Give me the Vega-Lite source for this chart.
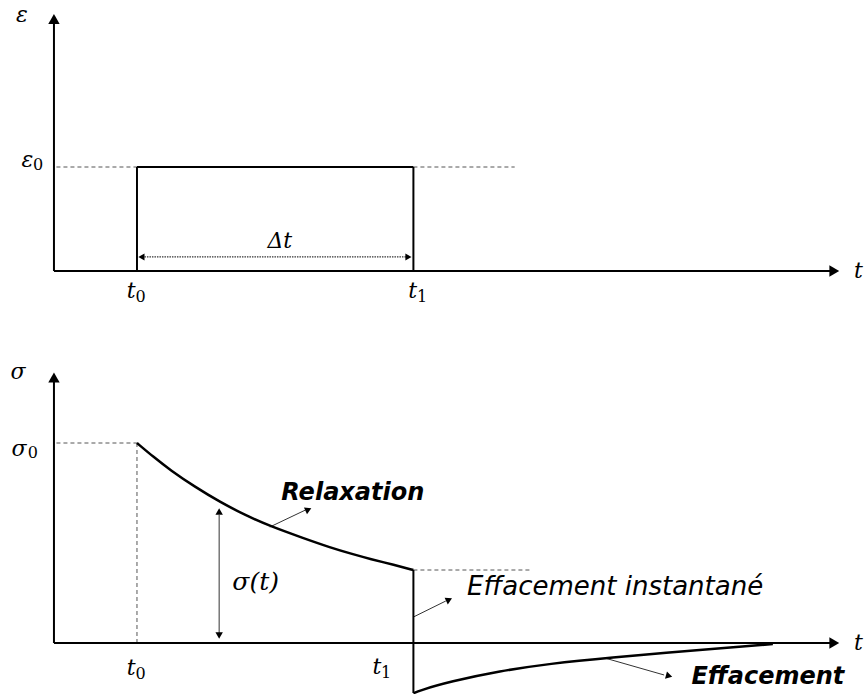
{
  "$schema": "https://vega.github.io/schema/vega-lite/v6.json",
  "padding": 0,
  "spacing": 0,
  "background": "white",
  "config": {"view": {"stroke": null}, "concat": {"spacing": 0}},
  "datasets": {
    "top_solid": [
      {"t": 0, "t2": 0, "v": 0, "v2": 2.40},
      {"t": 0, "t2": 9.36, "v": 0, "v2": 0},
      {"t": 1, "t2": 1, "v": 0, "v2": 1},
      {"t": 1, "t2": 4.33, "v": 1, "v2": 1},
      {"t": 4.33, "t2": 4.33, "v": 1, "v2": 0}
    ],
    "top_dashed": [
      {"t": 0.03, "t2": 1, "v": 1, "v2": 1},
      {"t": 4.33, "t2": 5.55, "v": 1, "v2": 1}
    ],
    "top_dotted": [
      {"t": 1.06, "t2": 4.26, "v": 0.135, "v2": 0.135}
    ],
    "top_heads_big": [
      {"t": 0, "v": 2.423, "dir": 270},
      {"t": 9.40, "v": 0, "dir": 0}
    ],
    "top_heads_small": [
      {"t": 1.054, "v": 0.135, "dir": 180},
      {"t": 4.27, "v": 0.135, "dir": 0}
    ],
    "top_math": [
      {"label": "ε", "t": -0.386, "v": 2.46},
      {"label": "ε", "t": -0.32, "v": 1.067},
      {"label": "Δt", "t": 2.72, "v": 0.288},
      {"label": "t", "t": 0.93, "v": -0.192},
      {"label": "t", "t": 4.32, "v": -0.192},
      {"label": "t", "t": 9.69, "v": 0}
    ],
    "top_sub": [
      {"label": "0", "t": -0.19, "v": 1.02},
      {"label": "0", "t": 1.045, "v": -0.25},
      {"label": "1", "t": 4.435, "v": -0.25}
    ],
    "bot_solid": [
      {"t": 0, "t2": 0, "v": 0, "v2": 1.31},
      {"t": 0, "t2": 9.36, "v": 0, "v2": 0},
      {"t": 4.33, "t2": 4.33, "v": 0.365, "v2": -0.25}
    ],
    "bot_dashed": [
      {"t": 0.03, "t2": 1, "v": 1, "v2": 1},
      {"t": 1, "t2": 1, "v": 0, "v2": 1},
      {"t": 4.33, "t2": 5.75, "v": 0.365, "v2": 0.365}
    ],
    "bot_thin": [
      {"t": 1.99, "t2": 1.99, "v": 0.05, "v2": 0.64},
      {"t": 2.6, "t2": 3.03, "v": 0.58, "v2": 0.665},
      {"t": 4.33, "t2": 4.72, "v": 0.13, "v2": 0.21},
      {"t": 6.66, "t2": 7.35, "v": -0.078, "v2": -0.16}
    ],
    "bot_curves": [
      {"series": "relaxation", "t": 1.0, "v": 1.0},
      {"series": "relaxation", "t": 1.2, "v": 0.93},
      {"series": "relaxation", "t": 1.4, "v": 0.865},
      {"series": "relaxation", "t": 1.7, "v": 0.78},
      {"series": "relaxation", "t": 2.0, "v": 0.705},
      {"series": "relaxation", "t": 2.3, "v": 0.64},
      {"series": "relaxation", "t": 2.6, "v": 0.585},
      {"series": "relaxation", "t": 3.0, "v": 0.525},
      {"series": "relaxation", "t": 3.33, "v": 0.477},
      {"series": "relaxation", "t": 3.6, "v": 0.444},
      {"series": "relaxation", "t": 3.81, "v": 0.42},
      {"series": "relaxation", "t": 4.1, "v": 0.39},
      {"series": "relaxation", "t": 4.33, "v": 0.365},
      {"series": "effacement", "t": 4.33, "v": -0.252},
      {"series": "effacement", "t": 4.4, "v": -0.238},
      {"series": "effacement", "t": 4.77, "v": -0.193},
      {"series": "effacement", "t": 5.37, "v": -0.14},
      {"series": "effacement", "t": 5.98, "v": -0.103},
      {"series": "effacement", "t": 6.66, "v": -0.074},
      {"series": "effacement", "t": 7.78, "v": -0.035},
      {"series": "effacement", "t": 8.66, "v": -0.005}
    ],
    "bot_heads_big": [
      {"t": 0, "v": 1.3275, "dir": 270},
      {"t": 9.40, "v": 0, "dir": 0}
    ],
    "bot_heads_small": [
      {"t": 1.99, "v": 0.6575, "dir": 270},
      {"t": 1.99, "v": 0.0375, "dir": 90},
      {"t": 3.065, "v": 0.667, "dir": 335.7},
      {"t": 4.76, "v": 0.2165, "dir": 334.6},
      {"t": 7.41, "v": -0.165, "dir": 15.3}
    ],
    "bot_math": [
      {"label": "σ", "t": -0.434, "v": 1.355},
      {"label": "σ", "t": -0.42, "v": 0.97},
      {"label": "t", "t": 0.93, "v": -0.125},
      {"label": "t", "t": 3.89, "v": -0.12},
      {"label": "t", "t": 9.69, "v": 0}
    ],
    "bot_math_big": [
      {"label": "σ(t)", "t": 2.43, "v": 0.305}
    ],
    "bot_sub": [
      {"label": "0", "t": -0.255, "v": 0.95},
      {"label": "0", "t": 1.045, "v": -0.155},
      {"label": "1", "t": 4.0, "v": -0.15}
    ],
    "bot_bold": [
      {"label": "Relaxation", "t": 3.6, "v": 0.75},
      {"label": "Effacement", "t": 8.6, "v": -0.17}
    ],
    "bot_italic": [
      {"label": "Effacement instantané", "t": 6.76, "v": 0.28}
    ]
  },
  "vconcat": [
    {
      "width": 865,
      "height": 347,
      "encoding": {
        "x": {"field": "t", "type": "quantitative", "axis": null, "scale": {"domain": [-0.65, 9.77], "nice": false, "zero": false}},
        "y": {"field": "v", "type": "quantitative", "axis": null, "scale": {"domain": [-0.731, 2.606], "nice": false, "zero": false}}
      },
      "layer": [
        {
          "data": {"name": "top_dashed"},
          "mark": {"type": "rule", "color": "#555", "strokeWidth": 1, "strokeDash": [4, 3]},
          "encoding": {"x2": {"field": "t2"}, "y2": {"field": "v2"}}
        },
        {
          "data": {"name": "top_dotted"},
          "mark": {"type": "rule", "color": "#333", "strokeWidth": 1.3, "strokeDash": [1.5, 1]},
          "encoding": {"x2": {"field": "t2"}, "y2": {"field": "v2"}}
        },
        {
          "data": {"name": "top_solid"},
          "mark": {"type": "rule", "color": "#000", "strokeWidth": 2},
          "encoding": {"x2": {"field": "t2"}, "y2": {"field": "v2"}}
        },
        {
          "data": {"name": "top_heads_big"},
          "mark": {"type": "point", "shape": "triangle-right", "filled": true, "color": "#000", "opacity": 1, "size": 130},
          "encoding": {"angle": {"field": "dir", "type": "quantitative", "scale": null}}
        },
        {
          "data": {"name": "top_heads_small"},
          "mark": {"type": "point", "shape": "triangle-right", "filled": true, "color": "#000", "opacity": 1, "size": 50},
          "encoding": {"angle": {"field": "dir", "type": "quantitative", "scale": null}}
        },
        {
          "data": {"name": "top_math"},
          "mark": {"type": "text", "font": "DejaVu Serif", "fontStyle": "italic", "fontSize": 22, "align": "center", "baseline": "middle", "color": "#000"},
          "encoding": {"text": {"field": "label"}}
        },
        {
          "data": {"name": "top_sub"},
          "mark": {"type": "text", "font": "DejaVu Serif", "fontSize": 16, "align": "center", "baseline": "middle", "color": "#000"},
          "encoding": {"text": {"field": "label"}}
        }
      ]
    },
    {
      "width": 865,
      "height": 347,
      "encoding": {
        "x": {"field": "t", "type": "quantitative", "axis": null, "scale": {"domain": [-0.65, 9.77], "nice": false, "zero": false}},
        "y": {"field": "v", "type": "quantitative", "axis": null, "scale": {"domain": [-0.255, 1.48], "nice": false, "zero": false}}
      },
      "layer": [
        {
          "data": {"name": "bot_dashed"},
          "mark": {"type": "rule", "color": "#555", "strokeWidth": 1, "strokeDash": [4, 3]},
          "encoding": {"x2": {"field": "t2"}, "y2": {"field": "v2"}}
        },
        {
          "data": {"name": "bot_thin"},
          "mark": {"type": "rule", "color": "#333", "strokeWidth": 1},
          "encoding": {"x2": {"field": "t2"}, "y2": {"field": "v2"}}
        },
        {
          "data": {"name": "bot_solid"},
          "mark": {"type": "rule", "color": "#000", "strokeWidth": 2},
          "encoding": {"x2": {"field": "t2"}, "y2": {"field": "v2"}}
        },
        {
          "data": {"name": "bot_curves"},
          "mark": {"type": "line", "color": "#000", "strokeWidth": 2.5, "interpolate": "basis"},
          "encoding": {"detail": {"field": "series"}, "order": {"field": "t", "type": "quantitative"}}
        },
        {
          "data": {"name": "bot_heads_big"},
          "mark": {"type": "point", "shape": "triangle-right", "filled": true, "color": "#000", "opacity": 1, "size": 130},
          "encoding": {"angle": {"field": "dir", "type": "quantitative", "scale": null}}
        },
        {
          "data": {"name": "bot_heads_small"},
          "mark": {"type": "point", "shape": "triangle-right", "filled": true, "color": "#000", "opacity": 1, "size": 55},
          "encoding": {"angle": {"field": "dir", "type": "quantitative", "scale": null}}
        },
        {
          "data": {"name": "bot_math"},
          "mark": {"type": "text", "font": "DejaVu Serif", "fontStyle": "italic", "fontSize": 22, "align": "center", "baseline": "middle", "color": "#000"},
          "encoding": {"text": {"field": "label"}}
        },
        {
          "data": {"name": "bot_math_big"},
          "mark": {"type": "text", "font": "DejaVu Serif", "fontStyle": "italic", "fontSize": 25, "align": "center", "baseline": "middle", "color": "#000"},
          "encoding": {"text": {"field": "label"}}
        },
        {
          "data": {"name": "bot_sub"},
          "mark": {"type": "text", "font": "DejaVu Serif", "fontSize": 16, "align": "center", "baseline": "middle", "color": "#000"},
          "encoding": {"text": {"field": "label"}}
        },
        {
          "data": {"name": "bot_bold"},
          "mark": {"type": "text", "font": "DejaVu Sans", "fontStyle": "italic", "fontWeight": "bold", "fontSize": 24, "align": "center", "baseline": "middle", "color": "#000"},
          "encoding": {"text": {"field": "label"}}
        },
        {
          "data": {"name": "bot_italic"},
          "mark": {"type": "text", "font": "DejaVu Sans", "fontStyle": "italic", "fontSize": 26, "align": "center", "baseline": "middle", "color": "#000"},
          "encoding": {"text": {"field": "label"}}
        }
      ]
    }
  ]
}
